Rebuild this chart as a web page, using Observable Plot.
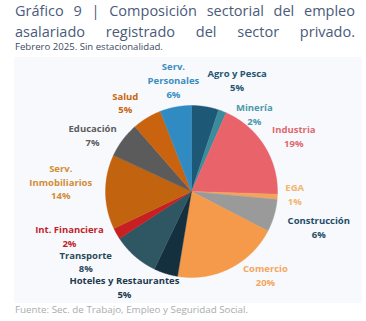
<!DOCTYPE html>
<html>
<head>
<meta charset="utf-8">
<script src="https://cdn.jsdelivr.net/npm/d3@7"></script>
<script src="https://cdn.jsdelivr.net/npm/@observablehq/plot@0.6"></script>
<style>
  html, body { margin: 0; padding: 0; background: #ffffff; width: 366px; height: 321px; overflow: hidden; }
  body { position: relative; font-family: "Open Sans", sans-serif; }
  #title { position: absolute; left: 15px; top: 0px; width: 340px; font-size: 14.5px; line-height: 21px;
           color: #4a5b7a; text-align: justify; text-align-last: justify; }
  #subtitle { position: absolute; left: 15px; top: 40px; font-size: 9.6px; color: #3d4a63; }
  #chart { position: absolute; left: 14px; top: 57px; }
  #caption { position: absolute; left: 15px; top: 303px; font-size: 9.8px; color: #a9abb0; }
</style>
</head>
<body>
<div id="title">Gráfico 9 | Composición sectorial del empleo asalariado registrado del sector privado.</div>
<div id="subtitle">Febrero 2025. Sin estacionalidad.</div>
<div id="chart"></div>
<div id="caption">Fuente: Sec. de Trabajo, Empleo y Seguridad Social.</div>
<script>
// ---- data (clockwise from 12 o'clock) ----
const sectors = ["Agro y Pesca", "Minería", "Industria", "EGA", "Construcción", "Comercio",
  "Hoteles y Restaurantes", "Transporte", "Int. Financiera", "Serv. Inmobiliarios",
  "Educación", "Salud", "Serv. Personales"];
const sectorLabels = ["Agro y Pesca", "Minería", "Industria", "EGA", "Construcción", "Comercio",
  "Hoteles y Restaurantes", "Transporte", "Int. Financiera", "Serv.\nInmobiliarios",
  "Educación", "Salud", "Serv.\nPersonales"];
const shares = [5.1, 1.5, 18.9, 1.0, 6.1, 20.0, 4.5, 8.7, 2.1, 14.0, 6.7, 5.5, 5.9];
const pctLabels = ["5%", "2%", "19%", "1%", "6%", "20%", "5%", "8%", "2%", "14%", "7%", "5%", "6%"];

// ---- styles ----
const sliceColors = ["#1e5877", "#3a8c9c", "#e9636b", "#f2a35c", "#9a9a9a", "#f5994a",
  "#14303f", "#2f5663", "#c81f22", "#c2630f", "#5b5b5b", "#c9630f", "#2f8bc2"];
const labelColors = ["#245573", "#4b98aa", "#dd6870", "#f2b46e", "#1f4d66", "#f4a660",
  "#1d3a4f", "#2b4a5c", "#c11f2b", "#d38c36", "#5d5d5d", "#c9660f", "#3b8ec2"];
// label anchor layout, in pie-radius units (x right, y up)
const labelLayout = [[0.53, 1.30], [0.73, 0.91], [1.19, 0.65], [1.20, -0.02], [1.48, -0.41],
  [0.86, -0.97], [-0.78, -1.11], [-1.23, -0.81], [-1.42, -0.51], [-1.52, 0.12],
  [-1.15, 0.66], [-0.77, 1.04], [-0.21, 1.30]];

// ---- build slice polygons from shares ----
const total = d3.sum(shares);
const pts = [];
let acc = 0;
sectors.forEach((s, i) => {
  const a0 = acc / total * 2 * Math.PI;
  acc += shares[i];
  const a1 = acc / total * 2 * Math.PI;
  pts.push({sector: s, x: 0, y: 0});
  const n = Math.max(2, Math.ceil((a1 - a0) / (Math.PI / 360)));
  for (let k = 0; k <= n; k++) {
    const a = a0 + (a1 - a0) * k / n;
    pts.push({sector: s, x: Math.sin(a), y: Math.cos(a)});
  }
  pts.push({sector: s, x: 0, y: 0});
});

const labels = sectors.map((s, i) => ({
  sector: s,
  text: sectorLabels[i] + "\n" + pctLabels[i],
  x: labelLayout[i][0],
  y: labelLayout[i][1],
  color: labelColors[i]
}));

const chart = Plot.plot({
  width: 348,
  height: 246,
  margin: 0,
  style: {background: "#f8f9fc", overflow: "visible"},
  x: {domain: [-1, 1], range: [91, 263], axis: null},
  y: {domain: [-1, 1], range: [220, 48], axis: null},
  color: {domain: sectors, range: sliceColors},
  marks: [
    Plot.line(pts, {x: "x", y: "y", z: "sector", fill: "sector", stroke: "sector", strokeWidth: 0.4, curve: "linear"}),
    Plot.text(labels, {x: "x", y: "y", text: "text", fill: d => d.color, fontSize: 9.5, fontWeight: "bold",
      lineHeight: 1.45, textAnchor: "middle", fontFamily: "Open Sans"})
  ]
});
document.getElementById("chart").appendChild(chart);
</script>
</body>
</html>
